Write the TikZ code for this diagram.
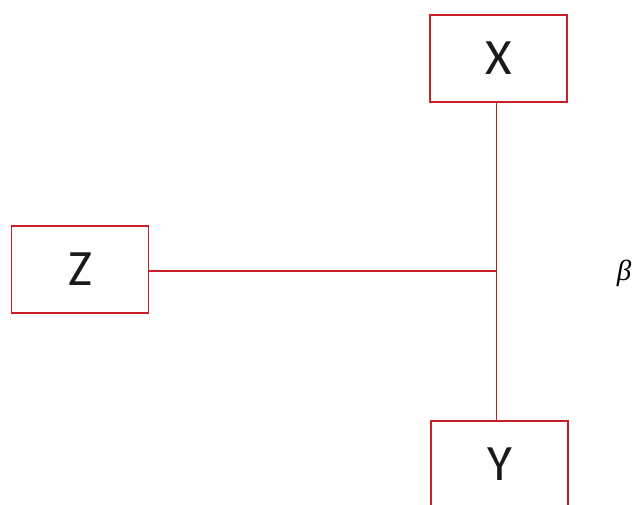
\documentclass[tikz,border=0pt]{standalone}
\usepackage{fontspec}
\setmainfont{Carlito}
\newfontfamily\betafont{Liberation Serif}
\begin{document}
\begin{tikzpicture}[x=1pt,y=1pt,
  boxst/.style={draw=linered, line width=1.6pt, rectangle, minimum width=137pt, minimum height=87pt, inner sep=0pt, font=\fontsize{51}{51}\selectfont, text=black!90},
  wire/.style={draw=linered, line width=1.4pt}]
\definecolor{linered}{RGB}{200,30,40}
\useasboundingbox (0,0) rectangle (636,505);
\clip (0,0) rectangle (636,505);
\node[boxst] (X) at (498.5,446.5) {X};
\node[boxst] (Z) at (80,235.5) {Z};
\node[boxst] (Y) at (499.5,40.5) {Y};
\coordinate (J) at (496.5,234);
\node[font=\betafont\itshape\fontsize{29}{29}\selectfont, inner sep=0pt] (B) at (624,232) {β};
\draw[wire] (X.south -| J) -- (J) -- (Y.north -| J);
\draw[wire] (Z.east |- J) -- (J);
\end{tikzpicture}
\end{document}
